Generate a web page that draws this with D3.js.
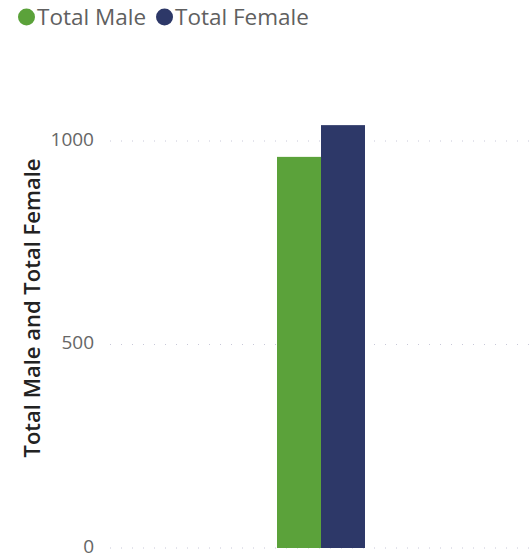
<!DOCTYPE html>
<html><head><meta charset="utf-8">
<script src="https://cdn.jsdelivr.net/npm/d3@7"></script>
<style>body{margin:0;background:#fff;font-family:"Open Sans","Segoe UI",sans-serif}</style>
</head><body>
<svg id="c" width="531" height="558"></svg>
<script>
const categories = [""];
const seriesNames = ["Total Male", "Total Female"];
const maleValues = [961];
const femaleValues = [1039];
const yTicks = [0, 500, 1000];
const colors = ["#5BA23A", "#2D3868"];

const svg = d3.select("#c");
const y = d3.scaleLinear().domain([0, 1000]).range([548, 141]);
const x0 = d3.scaleBand().domain(categories).range([110, 532]).paddingInner(0).paddingOuter(1.898);
const x1 = d3.scaleBand().domain(seriesNames).range([0, x0.bandwidth()]);

const yAxis = d3.axisLeft(y).tickValues(yTicks).tickSize(0).tickPadding(0).tickFormat(d3.format("d"));
const g = svg.append("g").attr("transform", "translate(94,0)").call(yAxis);
g.select(".domain").remove();
g.selectAll("text").attr("fill", "#666").style("font-size", "19px").style("font-family", "'Open Sans',sans-serif").attr("dy", "0.22em");
svg.append("g").selectAll("line").data(yTicks).join("line")
  .attr("x1", 110).attr("x2", 531).attr("y1", d => y(d)).attr("y2", d => y(d))
  .attr("stroke", "#c8c8d8").attr("stroke-width", 1).attr("stroke-dasharray", "1,10");

const data = categories.map((c, i) => ({cat: c, vals: [maleValues[i], femaleValues[i]]}));
svg.append("g").selectAll("g").data(data).join("g")
  .attr("transform", d => `translate(${x0(d.cat)},0)`)
  .selectAll("rect").data(d => d.vals.map((v, j) => ({v, j})))
  .join("rect")
  .attr("x", d => x1(seriesNames[d.j])).attr("width", x1.bandwidth())
  .attr("y", d => y(d.v)).attr("height", d => y(0) - y(d.v))
  .attr("fill", d => colors[d.j]);

svg.append("text").attr("transform", "translate(40,308) rotate(-90)")
  .attr("text-anchor", "middle").attr("fill", "#222")
  .style("font-size", "22px").style("font-weight", "600")
  .text("Total Male and Total Female");

const leg = svg.append("g");
let lx = 18;
seriesNames.forEach((n, i) => {
  leg.append("circle").attr("cx", lx + 8.5).attr("cy", 17).attr("r", 8.5).attr("fill", colors[i]);
  const t = leg.append("text").attr("x", lx + 19).attr("y", 25).attr("fill", "#606060")
    .style("font-size", "22.5px").text(n);
  lx += 19 + t.node().getComputedTextLength() + 10;
});
</script>
</body></html>
